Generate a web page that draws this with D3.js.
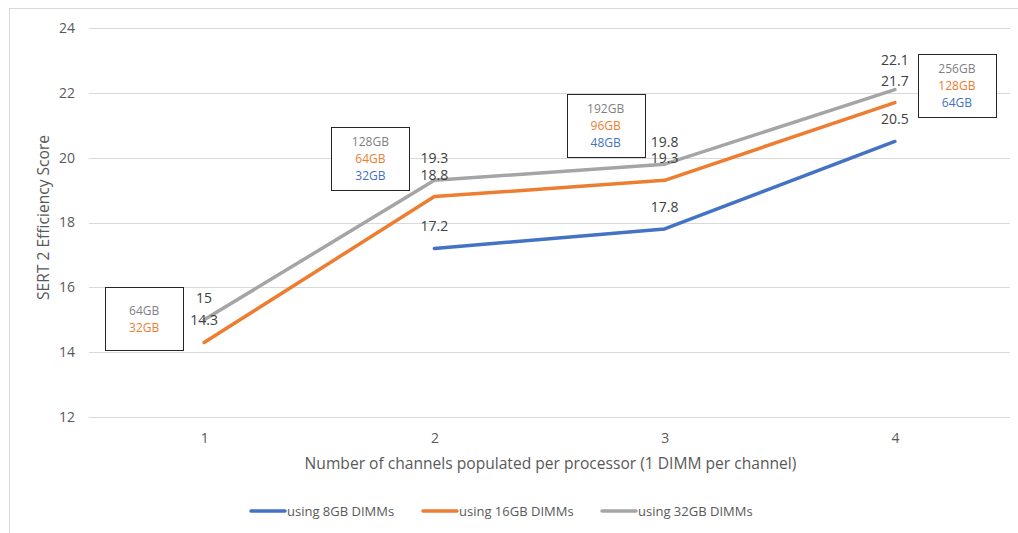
<!DOCTYPE html>
<html>
<head>
<meta charset="utf-8">
<script src="https://cdn.jsdelivr.net/npm/d3@7"></script>
<style>
  html, body { margin: 0; padding: 0; background: #fff; }
  svg { display: block; font-family: "Open Sans", "Liberation Sans", sans-serif; }
</style>
</head>
<body>
<svg id="chart" width="1018" height="533"></svg>
<script>
// Channels populated per processor
const categories = ["1", "2", "3", "4"];

// SERT 2 efficiency score per DIMM size (null = configuration not measured)
const seriesNames = ["using 8GB DIMMs", "using 16GB DIMMs", "using 32GB DIMMs"];
const dimm8 = [null, 17.2, 17.8, 20.5];
const dimm16 = [14.3, 18.8, 19.3, 21.7];
const dimm32 = [15, 19.3, 19.8, 22.1];

const yTicks = [12, 14, 16, 18, 20, 22, 24];

// Total memory capacity annotations per channel count
const capacity8 = [null, "32GB", "48GB", "64GB"];
const capacity16 = ["32GB", "64GB", "96GB", "128GB"];
const capacity32 = ["64GB", "128GB", "192GB", "256GB"];

const colors = ["#4472C4", "#ED7D31", "#A5A5A5"];
const seriesValues = [dimm8, dimm16, dimm32];

const svg = d3.select("#chart");
const W = 1018, H = 533;

// outer chart frame
svg.append("rect")
  .attr("x", 9.5).attr("y", 8.5)
  .attr("width", W + 20).attr("height", H + 20)
  .attr("fill", "#fff").attr("stroke", "#D9D9D9").attr("stroke-width", 1);

const plot = { left: 89, right: 1010, top: 28, bottom: 417 };

const x = d3.scalePoint()
  .domain(categories)
  .range([plot.left, plot.right])
  .padding(0.5);

const y = d3.scaleLinear()
  .domain([12, 24])
  .range([plot.bottom, plot.top]);

// gridlines
svg.append("g")
  .selectAll("line")
  .data(yTicks)
  .join("line")
  .attr("x1", plot.left).attr("x2", plot.right)
  .attr("y1", d => Math.round(y(d)) + 0.5)
  .attr("y2", d => Math.round(y(d)) + 0.5)
  .attr("stroke", "#D9D9D9").attr("stroke-width", 1);

// y axis labels
const yAxis = d3.axisLeft(y).tickValues(yTicks).tickSize(0).tickPadding(0);
svg.append("g")
  .attr("transform", `translate(${plot.left - 14},0)`)
  .call(yAxis)
  .call(g => g.select(".domain").remove())
  .call(g => g.selectAll("text")
    .attr("fill", "#595959")
    .attr("font-size", 14)
    .attr("font-family", "Open Sans, Liberation Sans, sans-serif"));

// x axis labels
const xAxis = d3.axisBottom(x).tickSize(0).tickPadding(0);
svg.append("g")
  .attr("transform", `translate(0,${plot.bottom + 16})`)
  .call(xAxis)
  .call(g => g.select(".domain").remove())
  .call(g => g.selectAll("text")
    .attr("fill", "#595959")
    .attr("font-size", 14)
    .attr("font-family", "Open Sans, Liberation Sans, sans-serif"));

// axis titles
svg.append("text")
  .attr("x", (plot.left + plot.right) / 2 + 1)
  .attr("y", 469)
  .attr("text-anchor", "middle")
  .attr("fill", "#595959")
  .attr("font-size", 15.6)
  .text("Number of channels populated per processor (1 DIMM per channel)");

svg.append("text")
  .attr("transform", `translate(49,${(plot.top + plot.bottom) / 2 - 5}) rotate(-90)`)
  .attr("text-anchor", "middle")
  .attr("fill", "#595959")
  .attr("font-size", 15.6)
  .text("SERT 2 Efficiency Score");

// series lines
const line = d3.line()
  .defined(d => d.v != null)
  .x(d => x(d.c))
  .y(d => y(d.v));

seriesValues.forEach((vals, i) => {
  const pts = categories.map((c, j) => ({ c, v: vals[j] }));
  svg.append("path")
    .datum(pts)
    .attr("d", line)
    .attr("fill", "none")
    .attr("stroke", colors[i])
    .attr("stroke-width", 3.5)
    .attr("stroke-linejoin", "round")
    .attr("stroke-linecap", "round");
});

// value labels above each point; nudge a label upward when it would
// collide with the one drawn just below it in the same column
const labels = [];
categories.forEach((c, j) => {
  const col = seriesValues
    .map(vals => ({ c, v: vals[j] }))
    .filter(d => d.v != null)
    .map(d => ({ ...d, ly: y(d.v) - 17 }))
    .sort((a, b) => b.ly - a.ly);
  for (let k = 1; k < col.length; k++) {
    if (col[k - 1].ly - col[k].ly < 15) col[k].ly = col[k - 1].ly - 21;
  }
  labels.push(...col);
});

svg.append("g")
  .selectAll("text")
  .data(labels)
  .join("text")
  .attr("x", d => x(d.c))
  .attr("y", d => d.ly)
  .attr("text-anchor", "middle")
  .attr("fill", "#404040")
  .attr("font-size", 14)
  .text(d => d.v);

// capacity annotation boxes
const boxes = [
  { c: "1", dx: -60, top: 16, lines: [[capacity32[0], 2], [capacity16[0], 1]] },
  { c: "2", dx: -64, top: 20.95, lines: [[capacity32[1], 2], [capacity16[1], 1], [capacity8[1], 0]] },
  { c: "3", dx: -59, top: 21.97, lines: [[capacity32[2], 2], [capacity16[2], 1], [capacity8[2], 0]] },
  { c: "4", dx: 62, top: 23.2, lines: [[capacity32[3], 2], [capacity16[3], 1], [capacity8[3], 0]] }
];
const boxW = 78, boxH = 63, lineGap = 17;

boxes.forEach(b => {
  const cx = x(b.c) + b.dx;
  const top = Math.round(y(b.top)) + 0.5;
  const g = svg.append("g");
  g.append("rect")
    .attr("x", Math.round(cx - boxW / 2) + 0.5)
    .attr("y", top)
    .attr("width", boxW).attr("height", boxH)
    .attr("fill", "#fff")
    .attr("stroke", "#262626").attr("stroke-width", 1);
  const n = b.lines.length;
  const startY = top + boxH / 2 - (n - 1) * lineGap / 2 + 4;
  g.selectAll("text")
    .data(b.lines)
    .join("text")
    .attr("x", cx)
    .attr("y", (d, k) => startY + k * lineGap)
    .attr("text-anchor", "middle")
    .attr("font-size", 12)
    .attr("fill", d => d[1] === 2 ? "#7F7F7F" : colors[d[1]])
    .text(d => d[0]);
});

// legend
const legendX = [251, 423, 602];
const legend = svg.append("g");
seriesNames.forEach((name, i) => {
  const lx = legendX[i], ly = 511;
  legend.append("line")
    .attr("x1", lx).attr("x2", lx + 34)
    .attr("y1", ly).attr("y2", ly)
    .attr("stroke", colors[i]).attr("stroke-width", 3.5)
    .attr("stroke-linecap", "round");
  legend.append("text")
    .attr("x", lx + 36).attr("y", ly + 5)
    .attr("fill", "#595959")
    .attr("font-size", 13)
    .text(name);
});
</script>
</body>
</html>
